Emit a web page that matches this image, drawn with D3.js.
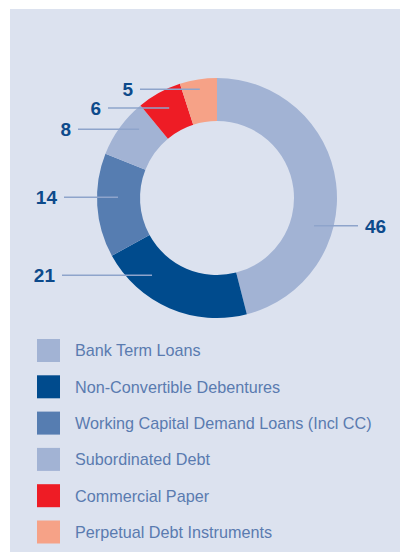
<!DOCTYPE html>
<html lang="en">
<head>
  <meta charset="UTF-8">
  <title>Borrowing Mix</title>
  <style>
    html, body { margin: 0; padding: 0; background: #fff; }
    svg { display: block; }
    .value { font-family: "Liberation Sans", Arial, sans-serif; font-weight: bold; font-size: 19px; fill: #0d4a8b; }
    .legend text { font-family: "Liberation Sans", Arial, sans-serif; font-size: 16.2px; fill: #5a7bb0; }
    .leader { stroke: #8ea4cb; stroke-width: 1.5; }
  </style>
</head>
<body>
  <svg width="400" height="552"></svg>

  <script src="https://d3js.org/d3.v7.min.js"></script>
  <script>
    // data
    const categories = [
      "Bank Term Loans",
      "Non-Convertible Debentures",
      "Working Capital Demand Loans (Incl CC)",
      "Subordinated Debt",
      "Commercial Paper",
      "Perpetual Debt Instruments"
    ];
    const values = [46, 21, 14, 8, 6, 5];
    const colors = ["#a2b3d4", "#004b8d", "#567db1", "#a2b3d4", "#ee1c25", "#f6a287"];

    // where each leader line starts inside its slice (fraction of the slice, radius) and where it ends
    const leaderT = [0.64, 0.72, 0.58, 0.69, 0.54, 0.5];
    const leaderR = [101, 101, 99, 104, 102, 110];
    const leaderEndX = [358, 62, 64, 78, 108, 140];

    const width = 400, height = 552;
    const cx = 217, cy = 198;
    const outerR = 120, innerR = 77;

    const svg = d3.select("svg");

    svg.append("rect")
      .attr("x", 10).attr("y", 9)
      .attr("width", width - 10).attr("height", height - 9)
      .attr("fill", "#dce2ef");

    const pie = d3.pie().sort(null).value(d => d)(values);
    const arc = d3.arc().innerRadius(innerR).outerRadius(outerR);

    const g = svg.append("g").attr("transform", `translate(${cx},${cy})`);

    g.selectAll("path")
      .data(pie)
      .join("path")
      .attr("d", arc)
      .attr("fill", (d, i) => colors[i]);

    // leader lines + values
    pie.forEach((d, i) => {
      const a = d.startAngle + leaderT[i] * (d.endAngle - d.startAngle);
      const x0 = cx + leaderR[i] * Math.sin(a);
      const y0 = cy - leaderR[i] * Math.cos(a);
      const right = a < Math.PI;
      const x1 = leaderEndX[i];

      svg.append("line")
        .attr("class", "leader")
        .attr("x1", x0).attr("y1", y0)
        .attr("x2", x1).attr("y2", y0);

      svg.append("text")
        .attr("class", "value")
        .attr("x", right ? x1 + 7 : x1 - 7)
        .attr("y", y0)
        .attr("dy", "0.36em")
        .attr("text-anchor", right ? "start" : "end")
        .text(d.data);
    });

    // legend
    const legend = svg.append("g").attr("class", "legend");
    const rowY = d3.scaleLinear().domain([0, categories.length - 1]).range([350.5, 532]);

    const row = legend.selectAll("g")
      .data(categories)
      .join("g")
      .attr("transform", (d, i) => `translate(37,${rowY(i)})`);

    row.append("rect")
      .attr("x", 0).attr("y", -11.5)
      .attr("width", 23).attr("height", 23)
      .attr("fill", (d, i) => colors[i]);

    row.append("text")
      .attr("x", 38)
      .attr("dy", "0.36em")
      .text(d => d);
  </script>
</body>
</html>
